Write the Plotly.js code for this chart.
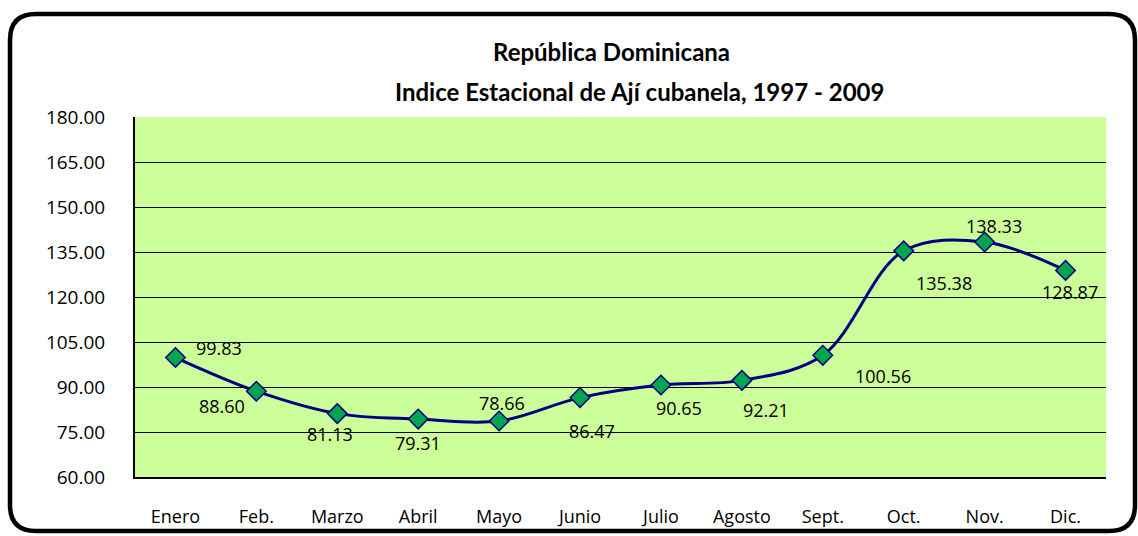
<!DOCTYPE html>
<html>
<head>
<meta charset="utf-8">
<script src="https://cdn.plot.ly/plotly-3.0.1.min.js"></script>
<style>html,body{margin:0;padding:0;background:#fff;}#chart{width:1138px;height:536px;}</style>
</head>
<body>
<div id="chart"></div>
<script>
const months = ["Enero","Feb.","Marzo","Abril","Mayo","Junio","Julio","Agosto","Sept.","Oct.","Nov.","Dic."];
const indexValues = [99.83, 88.60, 81.13, 79.31, 78.66, 86.47, 90.65, 92.21, 100.56, 135.38, 138.33, 128.87];
const yTickValues = [60, 75, 90, 105, 120, 135, 150, 165, 180];
const titleLine1 = "República Dominicana";
const titleLine2 = "Indice Estacional de Ají cubanela, 1997 - 2009";

// label offsets in pixels (dx right, dy up)
const labelShift = [[44,10],[-34,-15],[-7,-20],[0,-24],[3,18],[12,-33],[18,-23],[24,-30],[60,-21],[40,-32],[9,16],[4,-22]];

const W = 1138, H = 536;
const M = {l:135, r:32, t:117, b:59};
const pw = W - M.l - M.r, ph = H - M.t - M.b;
const px = x => (x - M.l) / pw;
const py = y => (H - M.b - y) / ph;

// rounded frame
const fx0 = 10, fx1 = 1135, fy0 = 14, fy1 = 531, rr = 26;
const framePath = [
  `M${px(fx0+rr)},${py(fy0)}`,
  `L${px(fx1-rr)},${py(fy0)}`,
  `Q${px(fx1)},${py(fy0)} ${px(fx1)},${py(fy0+rr)}`,
  `L${px(fx1)},${py(fy1-rr)}`,
  `Q${px(fx1)},${py(fy1)} ${px(fx1-rr)},${py(fy1)}`,
  `L${px(fx0+rr)},${py(fy1)}`,
  `Q${px(fx0)},${py(fy1)} ${px(fx0)},${py(fy1-rr)}`,
  `L${px(fx0)},${py(fy0+rr)}`,
  `Q${px(fx0)},${py(fy0)} ${px(fx0+rr)},${py(fy0)} Z`
].join(' ');

const FONT = "'Open Sans', sans-serif";
const TFONT = "Lato, 'Open Sans', sans-serif";

const trace = {
  x: months,
  y: indexValues,
  type: 'scatter',
  mode: 'lines+markers',
  line: {color: '#000080', width: 3, shape: 'spline', smoothing: 1},
  marker: {symbol: 'diamond', size: 15, color: '#00A550', line: {color: '#000080', width: 1.5}},
  hoverinfo: 'x+y',
  showlegend: false
};

const annotations = indexValues.map((v, i) => ({
  x: months[i], y: v, xref: 'x', yref: 'y',
  text: v.toFixed(2), showarrow: false,
  xshift: labelShift[i][0], yshift: labelShift[i][1],
  font: {family: FONT, size: 18, color: '#000'}
}));
annotations.push({
  xref: 'paper', yref: 'paper', x: px(611), y: py(52), xanchor: 'center', yanchor: 'middle',
  text: '<b>' + titleLine1 + '</b>', showarrow: false,
  font: {family: TFONT, size: 24, color: '#000'}
});
annotations.push({
  xref: 'paper', yref: 'paper', x: px(639), y: py(91), xanchor: 'center', yanchor: 'middle',
  text: '<b>' + titleLine2 + '</b>', showarrow: false,
  font: {family: TFONT, size: 24, color: '#000'}
});

const layout = {
  width: W, height: H,
  margin: M,
  paper_bgcolor: '#ffffff',
  plot_bgcolor: '#CCFF99',
  font: {family: FONT, size: 18, color: '#000'},
  xaxis: {
    type: 'category',
    range: [-0.5, 11.5],
    showgrid: false, zeroline: false,
    showline: true, linecolor: '#000', linewidth: 2,
    ticks: '', ticklabelstandoff: 22,
    tickfont: {family: FONT, size: 18, color: '#000'},
    fixedrange: true
  },
  yaxis: {
    range: [60, 180],
    tickvals: yTickValues,
    ticktext: yTickValues.map(v => v.toFixed(2)),
    showgrid: true, gridcolor: '#000', gridwidth: 1,
    zeroline: false,
    showline: true, linecolor: '#000', linewidth: 2,
    ticks: '', ticklabelstandoff: 24,
    tickfont: {family: FONT, size: 19, color: '#000'},
    fixedrange: true
  },
  shapes: [
    {type: 'path', xref: 'paper', yref: 'paper', path: framePath, line: {color: '#000', width: 4.5}, fillcolor: 'rgba(0,0,0,0)', layer: 'above'}
  ],
  annotations: annotations
};

Plotly.newPlot('chart', [trace], layout, {displayModeBar: false, staticPlot: true});
</script>
</body>
</html>
